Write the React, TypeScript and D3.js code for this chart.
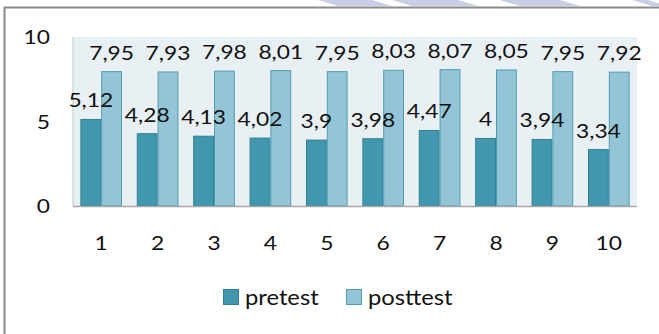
import React from "react";
import * as d3 from "d3";

const categories = ["1", "2", "3", "4", "5", "6", "7", "8", "9", "10"];
const pretest = [5.12, 4.28, 4.13, 4.02, 3.9, 3.98, 4.47, 4, 3.94, 3.34];
const posttest = [7.95, 7.93, 7.98, 8.01, 7.95, 8.03, 8.07, 8.05, 7.95, 7.92];
const seriesNames = ["pretest", "posttest"];
const yTicks = [0, 5, 10];

const W = 659;
const H = 334;
const FONT = "Lato, 'Open Sans', sans-serif";
const fills = ["#4197ae", "#93c5d6"];
const strokes = ["#337f95", "#4f9db3"];

const fmt = (v: number) => String(v).replace(".", ",");

function T({ x, y, children, anchor = "middle", size = 20, sx = 1.14 }: any) {
  return (
    <text
      transform={`translate(${x},${y}) scale(${sx},1)`}
      textAnchor={anchor}
      fontFamily={FONT}
      fontSize={size}
      fill="#111"
    >
      {children}
    </text>
  );
}

export default function App() {
  const left = 73, right = 637, top = 37, bottom = 206;
  const x0 = d3.scaleBand<string>().domain(categories).range([left, right]).paddingInner(0.262).paddingOuter(0.131);
  const x1 = d3.scaleBand<string>().domain(seriesNames).range([0, x0.bandwidth()]);
  const y = d3.scaleLinear().domain([0, 10]).range([bottom, top]);
  const data = [pretest, posttest];

  const bands = [
    [318, 372, 392, 338],
    [392, 458, 478, 412],
    [500, 560, 580, 520],
    [632, 648, 668, 652],
  ];

  return (
    <svg width={W} height={H} style={{ position: "absolute", left: 0, top: 0, background: "#fff" }}>
      {bands.map((b, i) => (
        <polygon key={i} points={`${b[0]},0 ${b[1]},0 ${b[2]},6 ${b[3]},6`} fill="#c9cde5" />
      ))}
      <line x1={4} x2={W} y1={7.5} y2={7.5} stroke="#8a8a8a" strokeWidth={2} />
      <line x1={4.5} x2={4.5} y1={7} y2={H} stroke="#8a8a8a" strokeWidth={2} />

      <rect x={left} y={top} width={right - left} height={bottom - top} fill="#e9f0f4" />
      <line x1={left} x2={left} y1={top} y2={bottom} stroke="#c0c6ca" strokeWidth={1} />

      {categories.map((c, i) =>
        data.map((s, j) => (
          <rect
            key={c + j}
            x={(x0(c) as number) + (x1(seriesNames[j]) as number) + 0.5}
            y={y(s[i])}
            width={x1.bandwidth() - 1}
            height={bottom - y(s[i])}
            fill={fills[j]}
            stroke={strokes[j]}
            strokeWidth={1}
          />
        ))
      )}
      <line x1={left} x2={right} y1={bottom + 0.5} y2={bottom + 0.5} stroke="#a6a6a6" strokeWidth={1.5} />

      {categories.map((c, i) =>
        data.map((s, j) => (
          <T key={"l" + c + j} x={(x0(c) as number) + (x1(seriesNames[j]) as number) + x1.bandwidth() / 2} y={y(s[i]) - 12}>
            {fmt(s[i])}
          </T>
        ))
      )}

      {yTicks.map((t) => (
        <T key={"y" + t} x={50} y={y(t) + 7} anchor="end">
          {t}
        </T>
      ))}
      {categories.map((c) => (
        <T key={"x" + c} x={(x0(c) as number) + x0.bandwidth() / 2} y={250}>
          {c}
        </T>
      ))}

      {seriesNames.map((n, j) => {
        const lx = [223, 346][j];
        return (
          <g key={n}>
            <rect x={lx + 0.5} y={289.5} width={15} height={15} fill={fills[j]} stroke={strokes[j]} />
            <T x={lx + 22} y={305} anchor="start" size={22} sx={1.08}>
              {n}
            </T>
          </g>
        );
      })}
    </svg>
  );
}
